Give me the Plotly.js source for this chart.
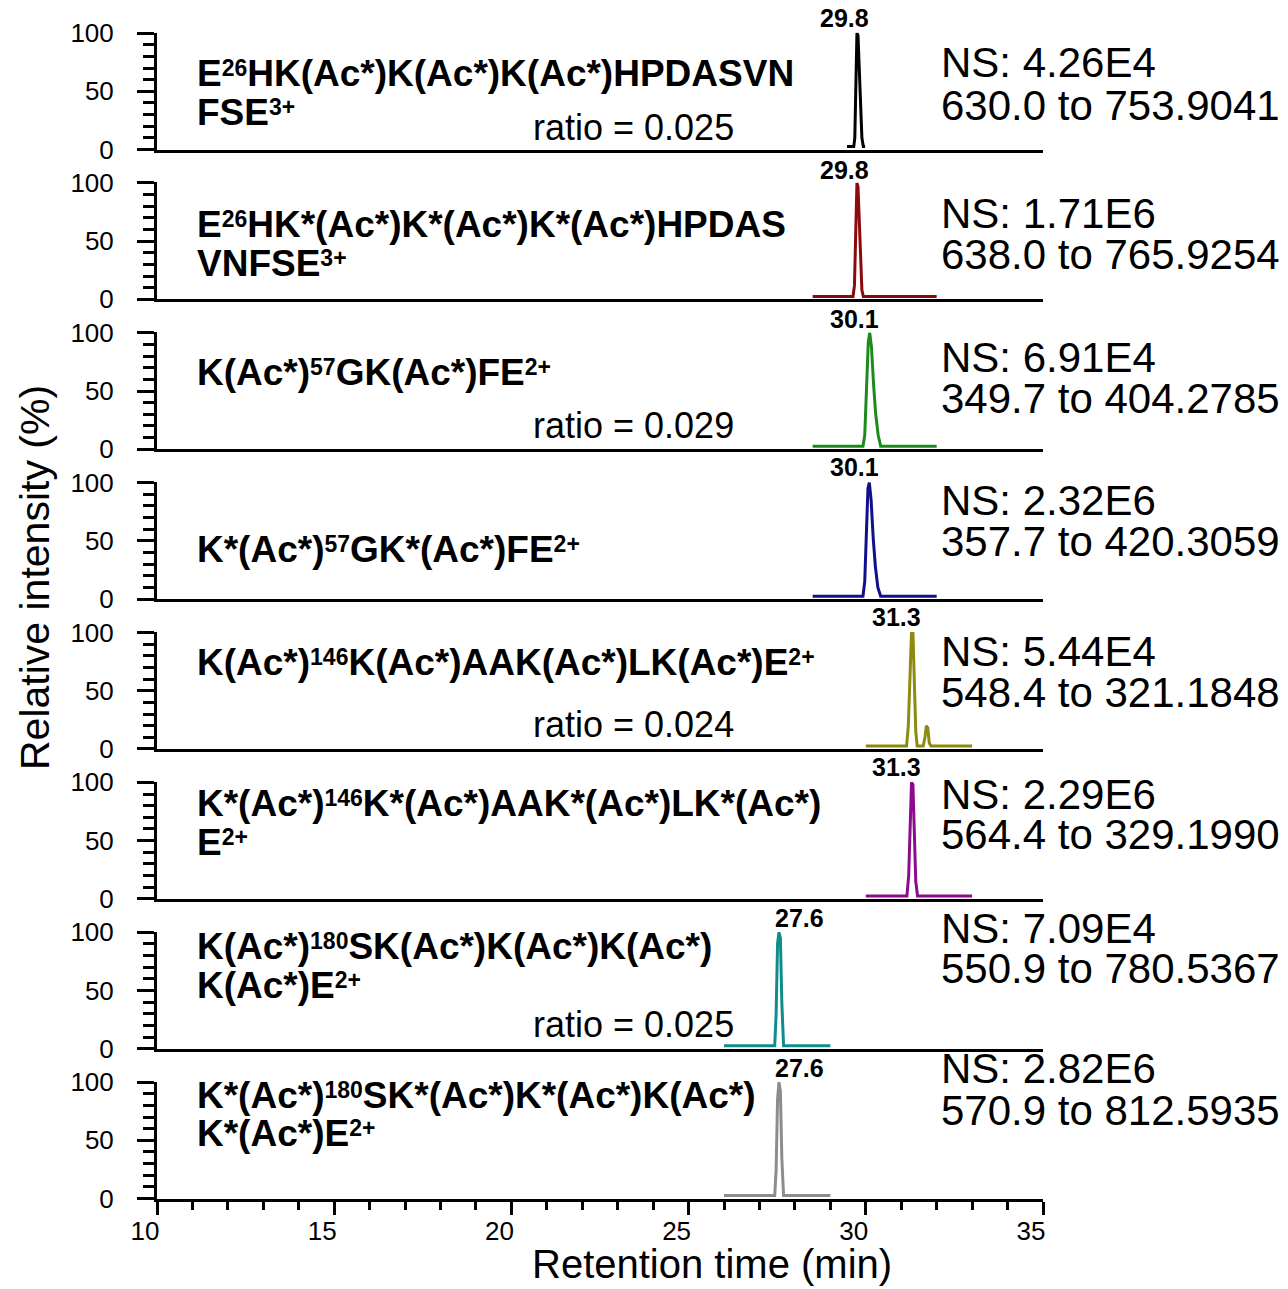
<!DOCTYPE html>
<html><head><meta charset="utf-8">
<script src="https://cdn.plot.ly/plotly-3.0.1.min.js"></script>
<style>body{margin:0;background:#fff}#chart{width:1288px;height:1289px}</style>
</head><body><div id="chart"></div>
<script>
// ---- data ----
const time1 = [29.47, 29.66, 29.69, 29.72, 29.75, 29.78, 29.81, 29.85, 29.89, 29.93, 29.98];
const int1  = [2.5, 2.5, 10, 60, 100, 98, 70, 30, 10, 2.5, 2.5];
const time2 = [28.5, 29.64, 29.68, 29.72, 29.75, 29.78, 29.81, 29.85, 29.89, 29.93, 32.0];
const int2  = [2.5, 2.5, 12, 65, 100, 97, 68, 28, 8, 2.5, 2.5];
const time3 = [28.5, 29.92, 29.97, 30.02, 30.07, 30.11, 30.16, 30.22, 30.28, 30.35, 30.42, 32.0];
const int3  = [2.5, 2.5, 12, 55, 92, 100, 88, 55, 30, 12, 2.5, 2.5];
const time4 = [28.5, 29.92, 29.97, 30.02, 30.06, 30.10, 30.15, 30.21, 30.27, 30.34, 30.42, 32.0];
const int4  = [2.5, 2.5, 15, 60, 95, 100, 85, 52, 28, 10, 2.5, 2.5];
const time5 = [30.0, 31.15, 31.20, 31.25, 31.29, 31.33, 31.37, 31.41, 31.45, 31.62, 31.67, 31.71, 31.75, 31.79, 31.84, 33.0];
const int5  = [2.5, 2.5, 20, 75, 100, 100, 60, 15, 2.5, 2.5, 10, 20, 18, 5, 2.5, 2.5];
const time6 = [30.0, 31.16, 31.21, 31.25, 31.29, 31.33, 31.37, 31.41, 31.46, 33.0];
const int6  = [2.5, 2.5, 20, 70, 100, 98, 60, 15, 2.5, 2.5];
const time7 = [26.0, 27.43, 27.47, 27.51, 27.55, 27.59, 27.63, 27.68, 29.0];
const int7  = [2.5, 2.5, 30, 90, 100, 95, 40, 2.5, 2.5];
const time8 = [26.0, 27.43, 27.47, 27.51, 27.55, 27.59, 27.63, 27.68, 29.0];
const int8  = [2.5, 2.5, 25, 85, 100, 92, 35, 2.5, 2.5];

const sup = s => '<sup><sub><span style="font-size:23px">' + s + '</span></sub></sup>';
const peptideLines = [
  ["E" + sup("26") + "HK(Ac*)K(Ac*)K(Ac*)HPDASVN", "FSE" + sup("3+")],
  ["E" + sup("26") + "HK*(Ac*)K*(Ac*)K*(Ac*)HPDAS", "VNFSE" + sup("3+")],
  ["K(Ac*)" + sup("57") + "GK(Ac*)FE" + sup("2+")],
  ["K*(Ac*)" + sup("57") + "GK*(Ac*)FE" + sup("2+")],
  ["K(Ac*)" + sup("146") + "K(Ac*)AAK(Ac*)LK(Ac*)E" + sup("2+")],
  ["K*(Ac*)" + sup("146") + "K*(Ac*)AAK*(Ac*)LK*(Ac*)", "E" + sup("2+")],
  ["K(Ac*)" + sup("180") + "SK(Ac*)K(Ac*)K(Ac*)", "K(Ac*)E" + sup("2+")],
  ["K*(Ac*)" + sup("180") + "SK*(Ac*)K*(Ac*)K(Ac*)", "K*(Ac*)E" + sup("2+")]
];
const ratioLabels = ["ratio = 0.025", "", "ratio = 0.029", "", "ratio = 0.024", "", "ratio = 0.025", ""];
const nsLabels = ["NS: 4.26E4", "NS: 1.71E6", "NS: 6.91E4", "NS: 2.32E6", "NS: 5.44E4", "NS: 2.29E6", "NS: 7.09E4", "NS: 2.82E6"];
const mzLabels = ["630.0 to 753.9041", "638.0 to 765.9254", "349.7 to 404.2785", "357.7 to 420.3059",
                  "548.4 to 321.1848", "564.4 to 329.1990", "550.9 to 780.5367", "570.9 to 812.5935"];
const peakLabels = ["29.8", "29.8", "30.1", "30.1", "31.3", "31.3", "27.6", "27.6"];
const xTickVals = [10, 15, 20, 25, 30, 35];
const yTickVals = [0, 50, 100];

// ---- styles & positions ----
const colors = ["#000000", "#8b0a0a", "#1e8a1e", "#10108c", "#8c8a10", "#8c0a8c", "#108c8c", "#8c8c8c"];
const times = [time1, time2, time3, time4, time5, time6, time7, time8];
const ints = [int1, int2, int3, int4, int5, int6, int7, int8];
const FONT = "Liberation Sans, Arial, sans-serif";
const H = 1289, PL = 157, PR = 1043, PW = PR - PL;
const zeroPx0 = 151, step = 149.86, panelH = 117;
const px2x = p => (p - PL) / PW;
const py2y = p => 1 - p / H;

const pepY = [[73, 112], [224, 263], [372], [550], [662], [803, 842], [946, 986], [1095, 1133]];
const ratioY = [127, 0, 425, 0, 724, 0, 1024, 0];
const nsY = [[63, 105], [213, 254], [357, 399], [500, 541], [651, 692], [794, 835], [928, 968], [1068, 1110]];
const peakLabX = [844, 844, 854, 854, 896, 896, 799, 799];
const peakLabY = [18, 170, 319, 467, 617, 767, 918, 1068];

const data = [];
const layout = {
  width: 1288, height: 1289,
  margin: {l: PL, r: 1288 - PR, t: 0, b: 0},
  paper_bgcolor: "#fff", plot_bgcolor: "#fff",
  showlegend: false,
  font: {family: FONT, color: "#000"},
  annotations: []
};

for (let k = 0; k < 8; k++) {
  const n = k + 1;
  const xs = n === 1 ? "x" : "x" + n;
  const ys = n === 1 ? "y" : "y" + n;
  data.push({
    x: times[k], y: ints[k], xaxis: xs, yaxis: ys,
    type: "scatter", mode: "lines",
    line: {color: colors[k], width: 3}, hoverinfo: "skip"
  });
  const zero = zeroPx0 + step * k - 1.5;
  const top = zero - panelH;
  const bottom = (k === 7);
  layout[n === 1 ? "xaxis" : "xaxis" + n] = {
    domain: [0, 1], anchor: ys, range: [10, 35],
    showline: true, linewidth: 3, linecolor: "#000", layer: "below traces",
    showgrid: false, zeroline: false, fixedrange: true,
    ticks: bottom ? "outside" : "", ticklen: 13, tickwidth: 3, tickcolor: "#000",
    tickmode: "array", tickvals: xTickVals, ticktext: xTickVals.map(String),
    showticklabels: bottom, tickfont: {size: 26, family: FONT, color: "#000"},
    ticklabelshift: -12, ticklabelstandoff: -6,
    minor: bottom ? {ticks: "outside", ticklen: 8, tickwidth: 3, tickcolor: "#000", tickvals: [11,12,13,14,16,17,18,19,21,22,23,24,26,27,28,29,31,32,33,34]} : {}
  };
  layout[n === 1 ? "yaxis" : "yaxis" + n] = {
    domain: [py2y(zero), py2y(top)], anchor: xs, range: [0, 100.5],
    showline: true, linewidth: 3, linecolor: "#000",
    showgrid: false, zeroline: false, fixedrange: true,
    ticks: "outside", ticklen: 17, tickwidth: 3, tickcolor: "#000",
    tickmode: "array", tickvals: yTickVals, ticktext: yTickVals.map(String),
    tickfont: {size: 26, family: FONT, color: "#000"},
    ticklabelstandoff: 18,
    minor: {ticks: "outside", ticklen: 11, tickwidth: 3, tickcolor: "#000", tickvals: [10,20,30,40,60,70,80,90]}
  };

  peptideLines[k].forEach((txt, j) => {
    layout.annotations.push({
      text: "<b>" + txt + "</b>", xref: "paper", yref: "paper",
      x: px2x(195), y: py2y(pepY[k][j]), xanchor: "left", yanchor: "middle",
      showarrow: false, font: {size: 37, family: FONT, color: "#000"}
    });
  });
  if (ratioLabels[k]) {
    layout.annotations.push({
      text: ratioLabels[k], xref: "paper", yref: "paper",
      x: px2x(531), y: py2y(ratioY[k]), xanchor: "left", yanchor: "middle",
      showarrow: false, font: {size: 36, family: FONT, color: "#000"}
    });
  }
  [nsLabels[k], mzLabels[k]].forEach((txt, j) => {
    layout.annotations.push({
      text: txt, xref: "paper", yref: "paper",
      x: px2x(939), y: py2y(nsY[k][j]), xanchor: "left", yanchor: "middle",
      showarrow: false, font: {size: 42, family: FONT, color: "#000"}
    });
  });
  layout.annotations.push({
    text: "<b>" + peakLabels[k] + "</b>", xref: "paper", yref: "paper",
    x: px2x(peakLabX[k]), y: py2y(peakLabY[k]), xanchor: "center", yanchor: "middle",
    showarrow: false, font: {size: 25, family: FONT, color: "#000"}
  });
}

layout.annotations.push({
  text: "Retention time (min)", xref: "paper", yref: "paper",
  x: px2x(712), y: py2y(1288), xanchor: "center", yanchor: "bottom",
  showarrow: false, font: {size: 40, family: FONT, color: "#000"}
});
layout.annotations.push({
  text: "Relative intensity (%)", xref: "paper", yref: "paper",
  x: px2x(35), y: py2y(578), xanchor: "center", yanchor: "middle", textangle: -90,
  showarrow: false, font: {size: 41, family: FONT, color: "#000"}
});

Plotly.newPlot("chart", data, layout, {staticPlot: true, displayModeBar: false});
</script></body></html>
